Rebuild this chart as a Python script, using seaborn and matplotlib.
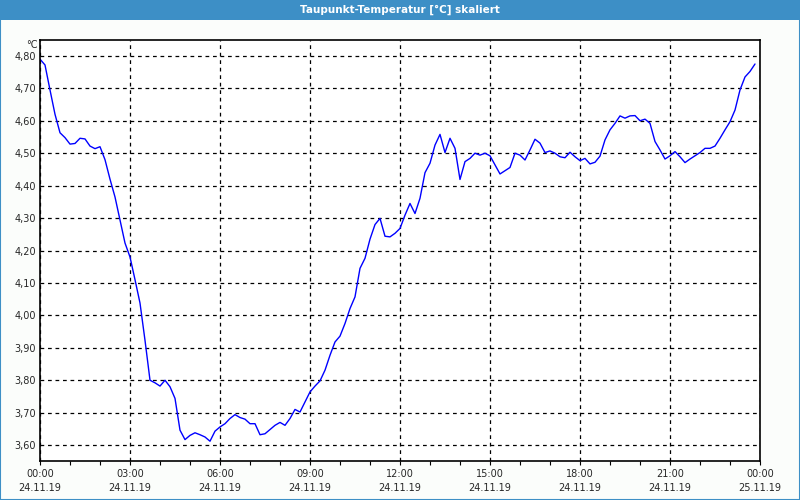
import numpy as np
import pandas as pd
import matplotlib
matplotlib.use("Agg")
import matplotlib.pyplot as plt
import matplotlib.dates as mdates
from matplotlib.ticker import FuncFormatter, MultipleLocator
from matplotlib.patches import Rectangle
import seaborn as sns

title = "Taupunkt-Temperatur [°C] skaliert"
unit = "°C"
start = "2019-11-24 00:00"
step_minutes = 10
values = [
    4.79, 4.772, 4.695, 4.62, 4.563, 4.548, 4.528, 4.530, 4.546, 4.544,
    4.522, 4.514, 4.52, 4.48, 4.42, 4.365, 4.294, 4.223, 4.18, 4.11,
    4.038, 3.923, 3.80, 3.792, 3.782, 3.80, 3.78, 3.744, 3.646, 3.617,
    3.63, 3.638, 3.632, 3.625, 3.612, 3.643, 3.656, 3.666, 3.682, 3.694,
    3.685, 3.680, 3.666, 3.666, 3.632, 3.635, 3.648, 3.661, 3.670, 3.661,
    3.682, 3.71, 3.702, 3.733, 3.764, 3.782, 3.798, 3.831, 3.877, 3.918,
    3.936, 3.975, 4.021, 4.057, 4.145, 4.176, 4.235, 4.28, 4.299, 4.244,
    4.242, 4.253, 4.268, 4.309, 4.345, 4.314, 4.361, 4.44, 4.469, 4.525,
    4.558, 4.502, 4.546, 4.515, 4.419, 4.474, 4.484, 4.50, 4.494, 4.50,
    4.492, 4.464, 4.436, 4.446, 4.456, 4.50, 4.494, 4.479, 4.51, 4.543,
    4.531, 4.502, 4.507, 4.50, 4.489, 4.486, 4.503, 4.489, 4.477, 4.484,
    4.467, 4.472, 4.491, 4.541, 4.572, 4.592, 4.615, 4.608, 4.615, 4.616,
    4.60, 4.605, 4.592, 4.536, 4.51, 4.482, 4.492, 4.505, 4.489, 4.471,
    4.482, 4.492, 4.502, 4.515, 4.515, 4.522, 4.546, 4.572, 4.597, 4.633,
    4.695, 4.735, 4.752, 4.775,
]
times = pd.date_range(start, periods=len(values), freq=f"{step_minutes}min")
df = pd.DataFrame({"Zeit": times, "Wert": values})

sns.set_style("white")
plt.rcParams["font.family"] = ["DejaVu Sans"]

bg = "#fbfdfb"
bar = "#3d8fc6"
fig = plt.figure(figsize=(8, 5), dpi=100, facecolor=bg)
# title bar and border
fig.patches.append(Rectangle((0, 0.96), 1, 0.04, transform=fig.transFigure,
                             facecolor=bar, edgecolor="none", zorder=0))
fig.patches.append(Rectangle((0.0006, 0.001), 0.9988, 0.997, transform=fig.transFigure,
                             facecolor="none", edgecolor=bar, linewidth=1.5, zorder=0))
fig.text(0.5, 0.98, title, color="white", fontsize=7.5, fontweight="bold",
         ha="center", va="center")

ax = fig.add_axes([0.05, 0.078, 0.90, 0.842])
ax.set_facecolor("white")
sns.lineplot(data=df, x="Zeit", y="Wert", ax=ax, color="#0000ff", linewidth=1.0)

ax.set_xlim(pd.Timestamp("2019-11-24 00:00"), pd.Timestamp("2019-11-25 00:00"))
ax.set_ylim(3.551, 4.849)
ax.yaxis.set_major_locator(MultipleLocator(0.1))
ax.yaxis.set_major_formatter(FuncFormatter(lambda v, p: f"{v:.2f}".replace(".", ",")))
ax.xaxis.set_major_locator(mdates.HourLocator(byhour=range(0, 24, 3)))
ax.xaxis.set_minor_locator(mdates.HourLocator())
ax.xaxis.set_major_formatter(mdates.DateFormatter("%H:%M\n%d.%m.%y"))
ax.set_xlabel("")
ax.set_ylabel("")

ax.grid(True, which="major", color="black", linestyle=(0, (3, 3)), linewidth=0.9)
for s in ax.spines.values():
    s.set_color("black")
    s.set_linewidth(1.2)

ax.tick_params(axis="x", which="major", length=3, width=0.8, color="black",
               labelsize=7, pad=3, direction="out", bottom=True)
ax.tick_params(axis="x", which="minor", length=3, width=0.8, color="black",
               bottom=True)
ax.tick_params(axis="y", which="major", length=0, labelsize=7, pad=3)
for lbl in ax.get_xticklabels():
    lbl.set_linespacing(1.45)

ax.text(-0.003, 1.0, unit, transform=ax.transAxes, fontsize=7,
        ha="right", va="top")

fig.savefig("out.png", dpi=100, facecolor=bg)
